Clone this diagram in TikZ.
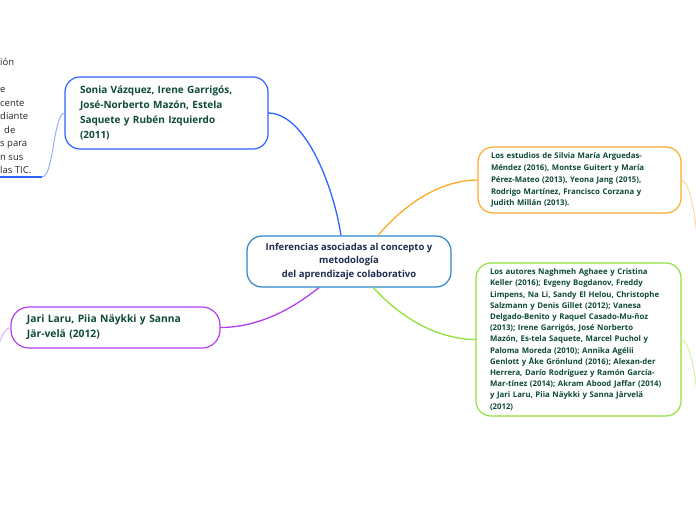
\documentclass[tikz,border=0pt]{standalone}
\usepackage{fontspec}
\setmainfont{Open Sans}
\usepackage{xcolor}
\usepackage{tikz}
\usetikzlibrary{calc}

\definecolor{rootblue}{HTML}{2B86C9}
\definecolor{rootink}{HTML}{1F2D4F}
\definecolor{leafink}{HTML}{0D4A37}
\definecolor{bblue}{HTML}{2F63FF}
\definecolor{bbluelight}{HTML}{8FA9FF}
\definecolor{borange}{HTML}{FFA928}
\definecolor{borangelight}{HTML}{FFD29A}
\definecolor{blime}{HTML}{8FE13B}
\definecolor{blimelight}{HTML}{C9F29E}
\definecolor{bpurple}{HTML}{B43EF2}
\definecolor{bpurplelight}{HTML}{DDA6F8}

\begin{document}
\begin{tikzpicture}[
  x=1pt, y=-1pt,
  topic/.style={draw=rootblue, line width=1.2pt, rounded corners=15pt, fill=white, minimum width=204pt, minimum height=51pt, inner sep=0pt, align=center, text=rootink, font=\fontsize{9.5}{13.5}\selectfont\bfseries},
  branch/.style={line width=1.2pt, rounded corners=15pt, fill=white, inner ysep=0pt, outer sep=0pt, align=left, text=leafink},
  link/.style={line width=1.3pt},
  twig/.style={line width=0.9pt}
]
\clip (0,0) rectangle (696,520);

\node[topic] (root) at (349,261.5) {Inferencias asociadas al concepto y\\ metodología\\ del aprendizaje colaborativo};

\node[branch, draw=bblue, minimum height=72pt, inner xsep=15pt, text width=173pt,
  font=\fontsize{10}{15.3}\selectfont\bfseries] (vazquez) at (166.5,113)
  {Sonia Vázquez, Irene Garrigós,\\ José-Norberto Mazón, Estela\\ Saquete y Rubén Izquierdo\\ (2011)};

\node[branch, draw=borange, minimum height=66pt, inner xsep=13pt, text width=177pt,
  font=\fontsize{7.8}{11.9}\selectfont\bfseries] (estudios) at (579.5,180)
  {Los estudios de Silvia María Arguedas-\\ Méndez (2016), Montse Guitert y María\\ Pérez-Mateo (2013), Yeona Jang (2015),\\ Rodrigo Martínez, Francisco Corzana y\\ Judith Millán (2013).};

\node[branch, draw=blime, minimum height=153pt, inner xsep=14pt, text width=177pt,
  font=\fontsize{7.8}{11.2}\selectfont\bfseries] (autores) at (578.5,339.5)
  {Los autores Naghmeh Aghaee y Cristina\\ Keller (2016); Evgeny Bogdanov, Freddy\\ Limpens, Na Li, Sandy El Helou, Christophe\\ Salzmann y Denis Gillet (2012); Vanesa\\ Delgado-Benito y Raquel Casado-Mu-ñoz\\ (2013); Irene Garrigós, José Norberto\\ Mazón, Es-tela Saquete, Marcel Puchol y\\ Paloma Moreda (2010); Annika Agélii\\ Genlott y Åke Grönlund (2016); Alexan-der\\ Herrera, Darío Rodríguez y Ramón García-\\ Mar-tínez (2014); Akram Abood Jaffar (2014)\\ y Jari Laru, Piia Näykki y Sanna Järvelä\\ (2012)};

\node[branch, draw=bpurple, rounded corners=18pt, minimum height=41pt, inner xsep=16pt, text width=177pt,
  font=\fontsize{10.3}{15}\selectfont\bfseries] (laru) at (115.5,327.5)
  {Jari Laru, Piia Näykki y Sanna\\ Jär-velä (2012)};

% cut-off note at the left edge
\node[anchor=south west, inner xsep=0pt, inner ysep=3pt, align=left,
  text=black!85, font=\fontsize{9.5}{13.5}\selectfont] (recorte) at (0,177)
  {ión\\ \mbox{}\\ e\\ cente\\ diante\\ \hspace*{4pt}de\\ s para\\ n sus\\ las TIC.};
\coordinate (recorteend) at ($(recorte.south west)+(42,0)$);
\draw[bblue, line width=1.4pt] (recorte.south west) -- (recorteend);

\coordinate (estudiosout) at (698,250);
\coordinate (autoresout) at (698,405);
\coordinate (laruout) at (-2,346);

\draw[link, bblue] (vazquez.east) .. controls +(37,0) and +(-8,-51) .. (root.107);
\draw[link, borange] (root.42) .. controls +(30,-35) and +(-35,0) .. (estudios.west);
\draw[link, blime] (root.-47) .. controls +(25,28) and +(-40,0) .. (autores.west);
\draw[link, bpurple] (root.221) .. controls +(-25,20) and +(40,0) .. (laru.east);

\draw[twig, bbluelight] (recorteend) .. controls +(12,0) and +(-12,0) .. (vazquez.west);
\draw[twig, borangelight] (estudios.east) .. controls +(7,0) and +(-3,-45) .. (estudiosout);
\draw[twig, blimelight] (autores.east) .. controls +(7,0) and +(-3,-40) .. (autoresout);
\draw[twig, bpurplelight] (laru.west) .. controls +(-6,0) and +(3,-8) .. (laruout);
\end{tikzpicture}
\end{document}
